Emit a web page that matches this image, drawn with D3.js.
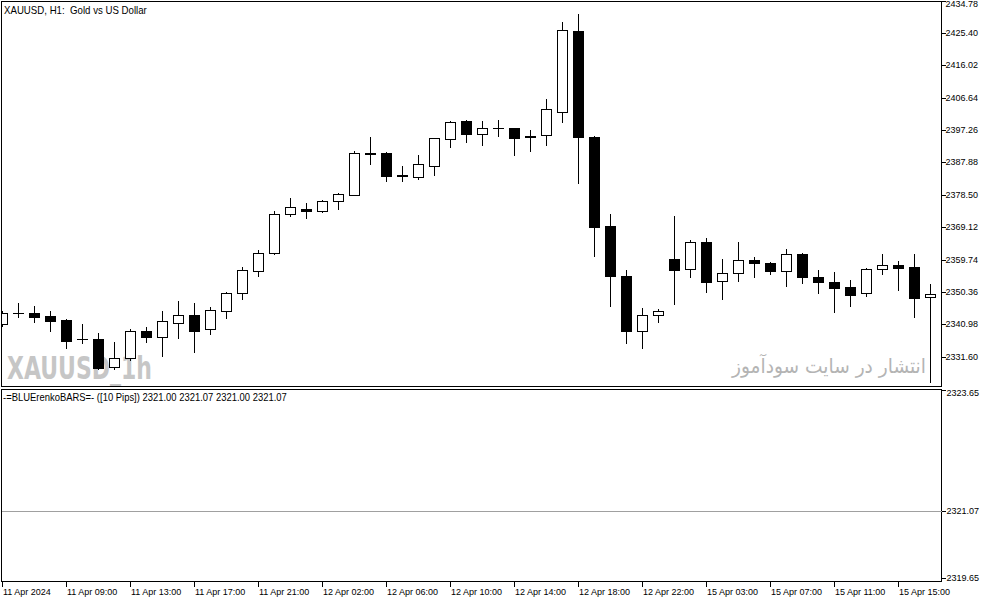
<!DOCTYPE html>
<html><head><meta charset="utf-8">
<script src="https://cdn.jsdelivr.net/npm/d3@7"></script>
<style>html,body{margin:0;padding:0;background:#fff;}svg{display:block;}</style>
</head><body>
<script>
const times = [
"2024.04.11 05:00","2024.04.11 06:00","2024.04.11 07:00","2024.04.11 08:00","2024.04.11 09:00","2024.04.11 10:00","2024.04.11 11:00","2024.04.11 12:00",
"2024.04.11 13:00","2024.04.11 14:00","2024.04.11 15:00","2024.04.11 16:00","2024.04.11 17:00","2024.04.11 18:00","2024.04.11 19:00","2024.04.11 20:00",
"2024.04.11 21:00","2024.04.11 22:00","2024.04.11 23:00","2024.04.12 01:00","2024.04.12 02:00","2024.04.12 03:00","2024.04.12 04:00","2024.04.12 05:00",
"2024.04.12 06:00","2024.04.12 07:00","2024.04.12 08:00","2024.04.12 09:00","2024.04.12 10:00","2024.04.12 11:00","2024.04.12 12:00","2024.04.12 13:00",
"2024.04.12 14:00","2024.04.12 15:00","2024.04.12 16:00","2024.04.12 17:00","2024.04.12 18:00","2024.04.12 19:00","2024.04.12 20:00","2024.04.12 21:00",
"2024.04.12 22:00","2024.04.12 23:00","2024.04.15 01:00","2024.04.15 02:00","2024.04.15 03:00","2024.04.15 04:00","2024.04.15 05:00","2024.04.15 06:00",
"2024.04.15 07:00","2024.04.15 08:00","2024.04.15 09:00","2024.04.15 10:00","2024.04.15 11:00","2024.04.15 12:00","2024.04.15 13:00","2024.04.15 14:00",
"2024.04.15 15:00","2024.04.15 16:00","2024.04.15 17:00"];
const open = [2340.98,2344.15,2344.17,2343.39,2342.23,2336.72,2336.72,2328.52,2331.13,2339.04,2337.39,2341.45,2343.68,2339.54,2344.93,2350.05,
2356.43,2361.65,2372.95,2374.40,2373.82,2376.80,2378.54,2390.62,2390.62,2384.25,2383.76,2386.94,2394.77,2399.90,2396.22,2397.78,
2397.87,2395.46,2395.75,2402.59,2425.98,2395.35,2369.47,2354.98,2339.19,2343.59,2359.91,2356.92,2364.75,2353.45,2355.76,2359.62,
2358.75,2356.52,2361.36,2354.69,2353.24,2351.71,2349.97,2356.92,2358.08,2357.59,2348.81];
const high = [2344.84,2347.07,2346.37,2344.84,2342.52,2341.07,2338.55,2335.77,2339.54,2340.29,2344.84,2347.74,2347.07,2346.08,2350.34,2357.59,
2362.52,2373.82,2377.58,2376.14,2377.00,2378.95,2391.20,2395.26,2391.00,2386.86,2390.04,2394.97,2399.81,2400.19,2399.90,2400.19,
2397.95,2397.29,2406.27,2428.59,2430.90,2395.50,2372.95,2356.72,2345.71,2345.42,2372.45,2365.41,2365.99,2359.91,2364.75,2360.57,
2358.90,2362.81,2361.73,2356.72,2356.14,2353.82,2357.30,2361.36,2359.33,2361.36,2352.58];
const low = [2340.49,2343.19,2341.74,2339.13,2334.20,2335.48,2328.03,2328.03,2330.64,2335.94,2331.89,2337.10,2332.87,2338.09,2342.90,2348.32,
2354.98,2361.36,2372.37,2371.79,2373.53,2374.48,2378.45,2387.52,2382.60,2382.60,2383.18,2384.25,2392.36,2393.81,2392.94,2395.64,
2390.04,2391.20,2392.94,2399.69,2382.02,2360.78,2346.37,2335.65,2334.26,2341.74,2346.78,2354.78,2350.43,2348.32,2353.62,2354.78,
2355.56,2352.17,2353.04,2350.14,2344.64,2346.37,2349.27,2355.65,2351.01,2343.19,2324.22];
const close = [2344.17,2344.20,2343.19,2342.03,2336.23,2336.72,2328.41,2331.13,2339.04,2337.39,2341.94,2343.68,2339.13,2345.13,2349.97,2356.72,
2361.65,2372.95,2374.98,2373.82,2376.71,2378.66,2390.54,2390.25,2383.96,2383.87,2387.35,2394.88,2399.52,2396.22,2397.78,2397.67,
2395.06,2395.17,2403.29,2426.27,2395.17,2369.27,2354.98,2339.04,2343.68,2344.84,2356.81,2364.75,2353.33,2355.85,2359.53,2358.66,
2356.52,2361.36,2354.78,2353.33,2351.59,2349.56,2357.01,2358.08,2357.39,2348.69,2349.68];

const priceTicks = [2434.78,2425.40,2416.02,2406.64,2397.26,2387.88,2378.50,2369.12,2359.74,2350.36,2340.98,2331.60];
const indTicks = [2323.65,2321.07,2319.65];
const renkoValues = [2321.00,2321.07,2321.00,2321.07];
const xTickTimes = ["2024.04.11 05:00","2024.04.11 09:00","2024.04.11 13:00","2024.04.11 17:00","2024.04.11 21:00","2024.04.12 02:00","2024.04.12 06:00","2024.04.12 10:00",
"2024.04.12 14:00","2024.04.12 18:00","2024.04.12 22:00","2024.04.15 03:00","2024.04.15 07:00","2024.04.15 11:00","2024.04.15 15:00"];
const xTickLabels = ["11 Apr 2024","11 Apr 09:00","11 Apr 13:00","11 Apr 17:00","11 Apr 21:00","12 Apr 02:00","12 Apr 06:00","12 Apr 10:00",
"12 Apr 14:00","12 Apr 18:00","12 Apr 22:00","15 Apr 03:00","15 Apr 07:00","15 Apr 11:00","15 Apr 15:00"];
const titleText = "XAUUSD, H1:  Gold vs US Dollar";
const indName = "-=BLUErenkoBARS=- ([10 Pips])";
const wmLeft = "XAUUSD_1h";
const wmRight = "انتشار در سایت سودآموز";

const W = 994, H = 603;
const L = 1.5, R = 941.5, mainTop = 1.5, mainBot = 386.5, indTop = 389.5, indBot = 581.5;
const font = "'Liberation Sans', Arial, sans-serif";

const svg = d3.select("body").append("svg").attr("width", W).attr("height", H);
svg.append("rect").attr("width", W).attr("height", H).attr("fill", "#fff");

const x = d3.scalePoint().domain(times).range([2, 930]);
const y = d3.scaleLinear().domain([2322.82, 2434.67]).range([387, 1]);
const yi = d3.scaleLinear().domain([2319.65, 2323.65]).range([578, 390]);

function fit(sel, w) {
  const len = sel.node().getComputedTextLength();
  const tx = +sel.attr("x"), ty = +sel.attr("y");
  sel.attr("transform", `translate(${tx},${ty}) scale(${w / len},1) translate(${-tx},${-ty})`);
}

// watermarks
const wl = svg.append("text").attr("x", 7).attr("y", 379).attr("fill", "#c6c6c6")
  .attr("font-family", "'DejaVu Sans', sans-serif").attr("font-weight", "bold").attr("font-size", 32).text(wmLeft);
fit(wl, 145);
const wr = svg.append("text").attr("x", 829).attr("y", 373).attr("fill", "#b4b4b4")
  .attr("text-anchor", "middle").attr("font-family", "'DejaVu Sans', sans-serif").attr("font-size", 20).text(wmRight);
fit(wr, 194);

// candles
const clip = svg.append("clipPath").attr("id", "mc").append("rect")
  .attr("x", L).attr("y", mainTop).attr("width", R - L).attr("height", mainBot - mainTop);
const cg = svg.append("g").attr("clip-path", "url(#mc)").attr("shape-rendering", "crispEdges");
const data = times.map((t, i) => ({ t, o: open[i], h: high[i], l: low[i], c: close[i] }));
const cand = cg.selectAll("g.c").data(data).join("g").attr("class", "c");
cand.append("line")
  .attr("x1", d => x(d.t) + 0.5).attr("x2", d => x(d.t) + 0.5)
  .attr("y1", d => Math.round(y(d.h))).attr("y2", d => Math.round(y(d.l)) + 1)
  .attr("stroke", "#000").attr("stroke-width", 1);
cand.each(function(d) {
  const g = d3.select(this);
  const yt = Math.round(y(Math.max(d.o, d.c))), yb = Math.round(y(Math.min(d.o, d.c)));
  const cx = x(d.t);
  if (Math.abs(y(d.o) - y(d.c)) < 0.8) {
    g.append("line").attr("x1", cx - 5).attr("x2", cx + 6).attr("y1", yt + 0.5).attr("y2", yt + 0.5)
      .attr("stroke", "#000").attr("stroke-width", 1);
  } else {
    g.append("rect").attr("x", cx - 4.5).attr("y", yt + 0.5).attr("width", 10).attr("height", Math.max(1, yb - yt))
      .attr("fill", d.c >= d.o ? "#fff" : "#000").attr("stroke", "#000").attr("stroke-width", 1);
  }
});

// frames
const fr = svg.append("g").attr("stroke", "#000").attr("stroke-width", 1).attr("fill", "none").attr("shape-rendering", "crispEdges");
fr.append("rect").attr("x", L).attr("y", mainTop).attr("width", R - L).attr("height", mainBot - mainTop);
fr.append("rect").attr("x", L).attr("y", indTop).attr("width", R - L).attr("height", indBot - indTop);

// indicator line
svg.append("line").attr("x1", L).attr("x2", R).attr("y1", Math.round(yi(renkoValues[3])) + 0.5).attr("y2", Math.round(yi(renkoValues[3])) + 0.5)
  .attr("stroke", "#a0a0a0").attr("stroke-width", 1).attr("shape-rendering", "crispEdges");

// right price axis
const pa = svg.append("g").attr("font-family", font).attr("font-size", 9).attr("fill", "#000");
const pt = pa.selectAll("g").data(priceTicks).join("g");
pt.append("line").attr("x1", R).attr("x2", R + 4).attr("y1", d => Math.round(y(d)) + 0.5).attr("y2", d => Math.round(y(d)) + 0.5)
  .attr("stroke", "#000").attr("shape-rendering", "crispEdges");
pt.append("text").attr("x", R + 4).attr("y", d => Math.max(4, Math.round(y(d)))).attr("dy", "0.35em").text(d => d.toFixed(2));

const ia = svg.append("g").attr("font-family", font).attr("font-size", 9).attr("fill", "#000");
const it = ia.selectAll("g").data(indTicks).join("g");
it.append("line").attr("x1", R).attr("x2", R + 4).attr("y1", d => Math.round(yi(d)) + 0.5).attr("y2", d => Math.round(yi(d)) + 0.5)
  .attr("stroke", "#000").attr("shape-rendering", "crispEdges");
it.append("text").attr("x", R + 5).attr("y", (d, i) => Math.round(yi(d)) + (i === 0 ? 3 : 0)).attr("dy", "0.35em").text(d => d.toFixed(2));

// x axis
const xa = svg.append("g").attr("font-family", font).attr("font-size", 9).attr("fill", "#000");
const xt = xa.selectAll("g").data(xTickTimes).join("g");
xt.append("line").attr("x1", d => x(d) + 0.5).attr("x2", d => x(d) + 0.5).attr("y1", indBot).attr("y2", indBot + 5)
  .attr("stroke", "#000").attr("shape-rendering", "crispEdges");
xt.append("text").attr("x", d => x(d) + 1).attr("y", 595).text((d, i) => xTickLabels[i]);

// title and indicator label
const tt = svg.append("text").attr("x", 4).attr("y", 14).attr("font-family", font).attr("font-size", 10)
  .style("white-space", "pre").attr("fill", "#000").text(titleText);
fit(tt, 143);
const il = svg.append("text").attr("x", 3).attr("y", 401).attr("font-family", font).attr("font-size", 10)
  .style("white-space", "pre").attr("fill", "#000").text(indName + " " + renkoValues.map(v => v.toFixed(2)).join(" "));
fit(il, 284);
</script>
</body></html>
